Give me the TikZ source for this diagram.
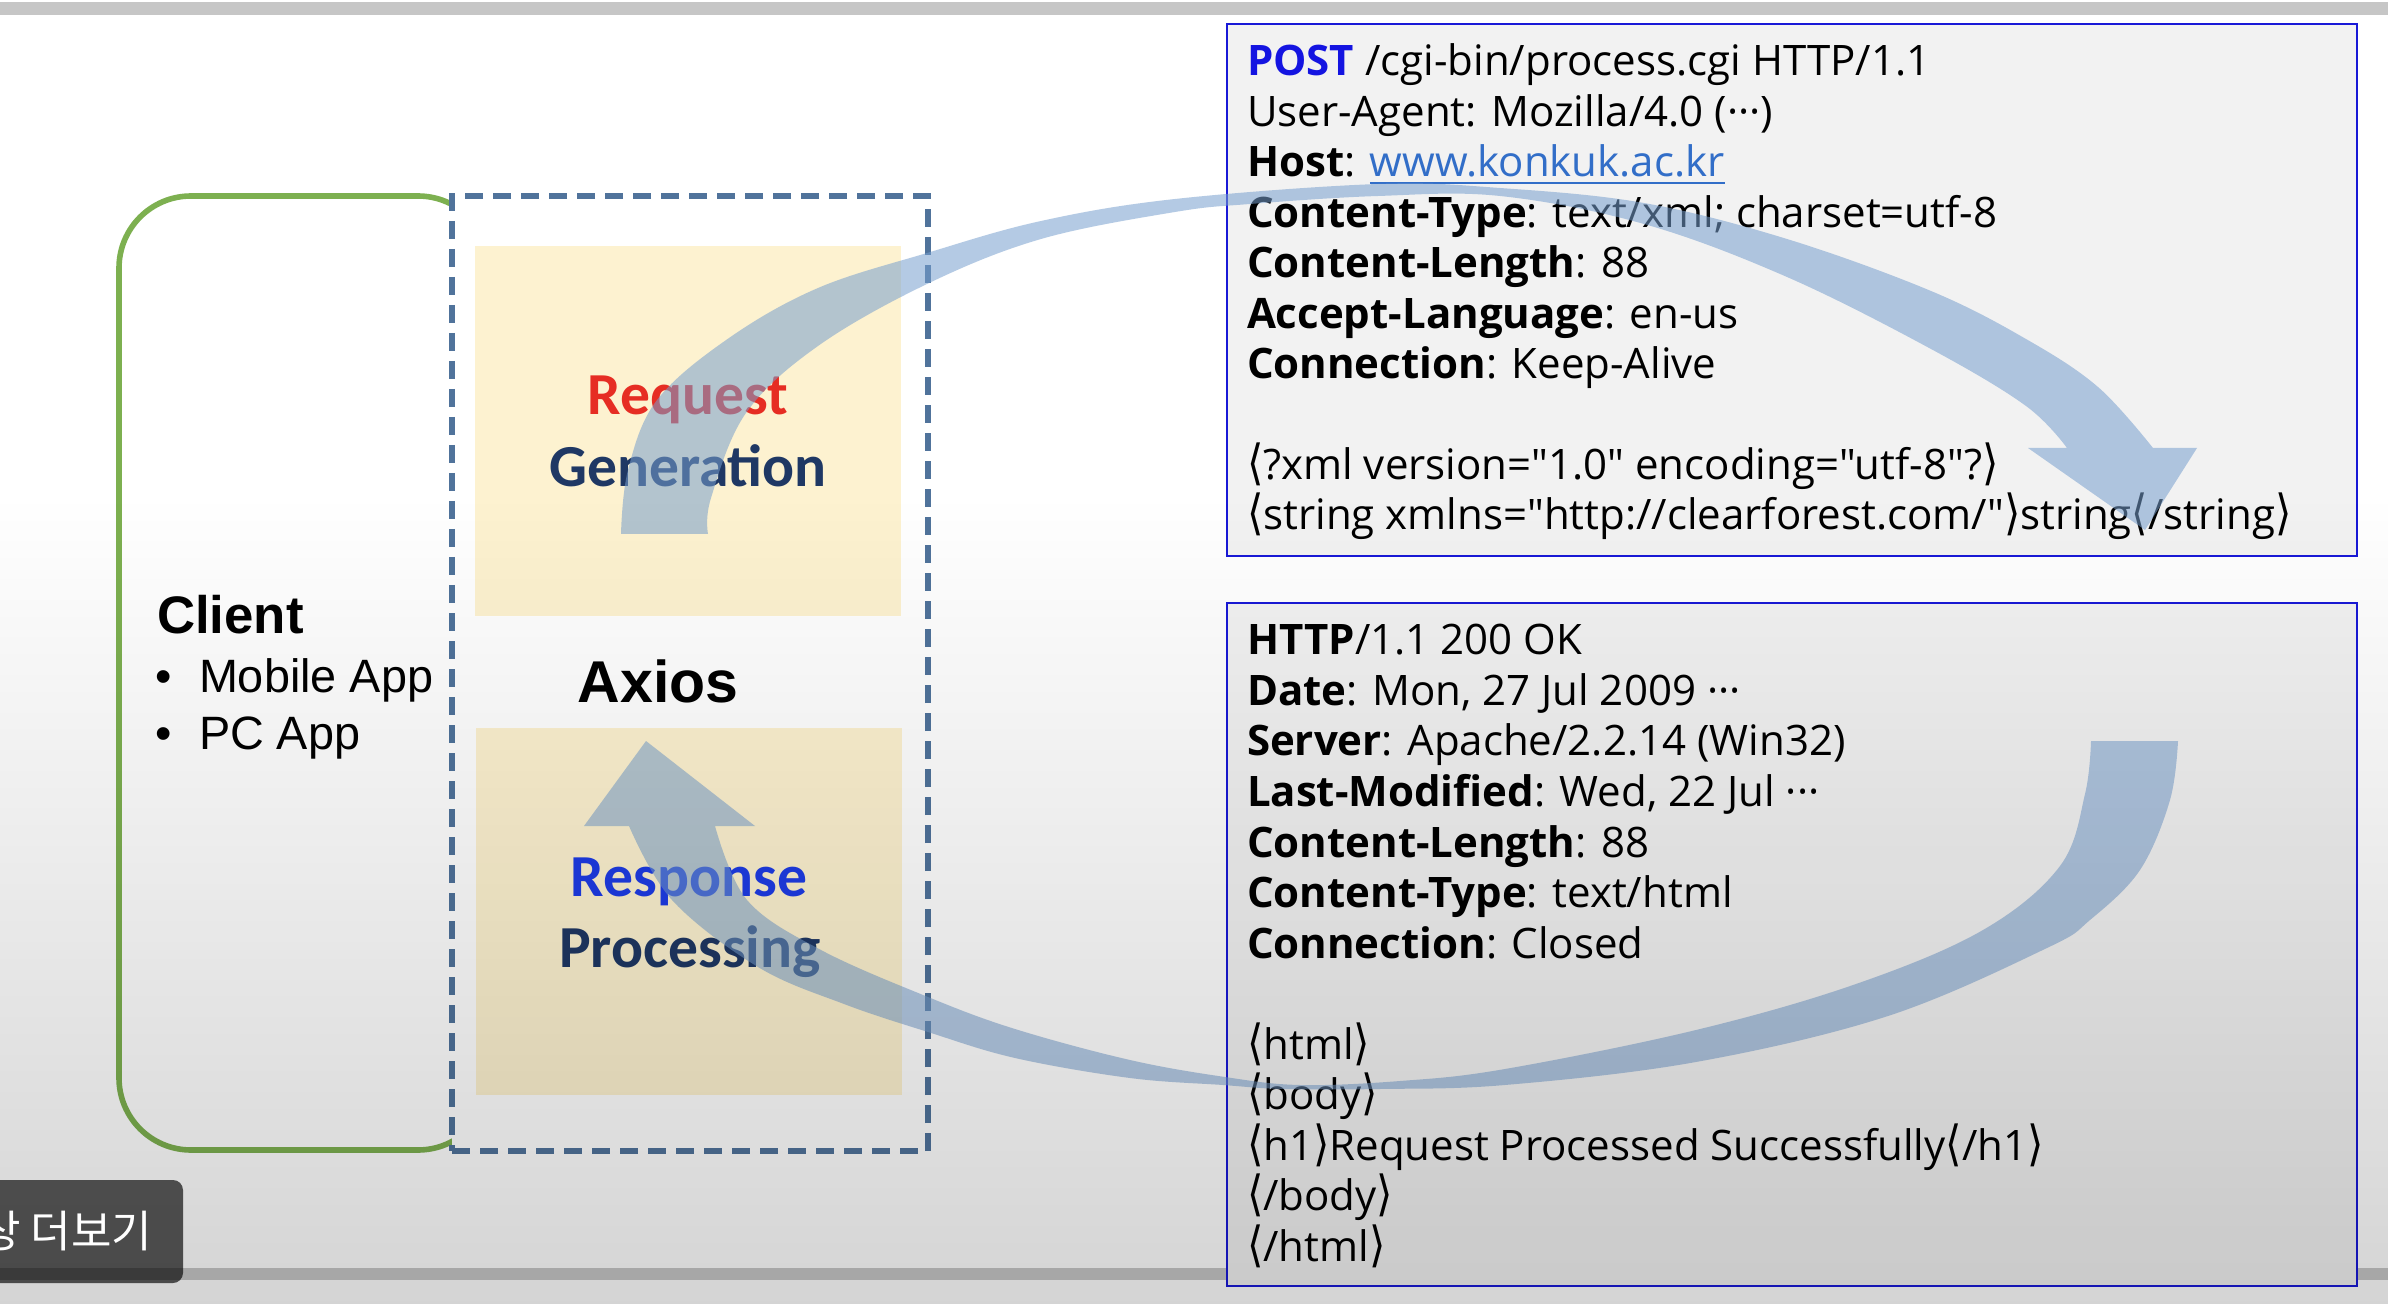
\documentclass[tikz,border=0pt]{standalone}
\usepackage{fontspec}
\setmainfont{Open Sans}[Ligatures=TeXOff]
\newfontfamily\calibfont{Carlito}
\newfontfamily\arialfont{Liberation Sans}
\newfontfamily\symbfont{DejaVu Sans}
\newfontfamily\krfont{Noto Sans CJK KR}
\usetikzlibrary{fadings}

\definecolor{greenline}{RGB}{125,176,80}
\definecolor{dashblue}{RGB}{80,115,155}
\definecolor{cream}{RGB}{253,242,208}
\definecolor{boxblue}{RGB}{25,25,215}
\definecolor{boxfill}{RGB}{242,242,242}
\definecolor{postblue}{RGB}{20,20,225}
\definecolor{linkblue}{RGB}{50,110,200}
\definecolor{reqred}{RGB}{230,45,35}
\definecolor{navy}{RGB}{31,56,100}
\definecolor{respblue}{RGB}{30,60,230}
\definecolor{arrowblue}{RGB}{119,159,206}
\definecolor{stripgray}{RGB}{198,198,198}
\definecolor{bargray}{RGB}{199,199,199}

\newcommand\lab{{\symbfont\scalebox{1}[1.15]{⟨}}}
\newcommand\rab{{\symbfont\scalebox{1}[1.15]{⟩}}}
\newcommand\mdots{···}

\tikzfading[name=shadeup, top color=transparent!100, bottom color=transparent!0]

\begin{document}
\begin{tikzpicture}[x=0.25pt,y=-0.25pt,
  every node/.style={inner sep=0pt, outer sep=0pt},
  httptext/.style={anchor=base west, font=\fontsize{10.5}{12}\selectfont},
  stagetext/.style={anchor=base, font=\calibfont\bfseries\fontsize{14.9}{17}\selectfont},
  arrowfill/.style={fill=arrowblue, fill opacity=0.55},
  msgbox/.style={draw=boxblue, line width=0.7pt, fill=boxfill},
  yellowbox/.style={fill=cream}
]
% canvas
\useasboundingbox (0,0) rectangle (2388,1304);
\fill[white] (0,0) rectangle (2388,1304);
\fill[bargray] (0,1268) rectangle (2388,1280);

% client frame
\draw[greenline, line width=1.4pt, rounded corners=18pt] (119,196) rectangle (490,1150);
% axios frame
\node[draw=dashblue, fill=white, line width=1.5pt, dash pattern=on 4.5pt off 2.5pt,
      minimum width=119pt, minimum height=238.75pt, anchor=north west] (axiosframe) at (452,196) {};

% stage boxes
\node[yellowbox, minimum width=106.5pt, minimum height=92.5pt, anchor=north west] (reqbox) at (475,246) {};
\node[yellowbox, minimum width=106.5pt, minimum height=91.75pt, anchor=north west] (respbox) at (476,728) {};

% labels inside the client / axios frames
\node[anchor=base west, font=\arialfont\bfseries\fontsize{13.2}{15}\selectfont] (client) at (157,633) {Client};
\node[anchor=base west, font=\arialfont\fontsize{11.7}{14}\selectfont] (bul1) at (155,692) {•};
\node[anchor=base west, font=\arialfont\fontsize{11.7}{14}\selectfont] (mobile) at (199,692) {Mobile App};
\node[anchor=base west, font=\arialfont\fontsize{11.7}{14}\selectfont] (bul2) at (155,749) {•};
\node[anchor=base west, font=\arialfont\fontsize{11.7}{14}\selectfont] (pcapp) at (199,749) {PC App};
\node[anchor=base, font=\arialfont\bfseries\fontsize{14.75}{17}\selectfont] (axios) at (658,702) {Axios};

\node[stagetext, text=reqred] (request) at (688,415) {Request};
\node[stagetext, text=navy] (generation) at (688,487) {Generation};
\node[stagetext, text=respblue] (response) at (689,896) {Response};
\node[stagetext, text=navy] (processing) at (690,967) {Processing};

% HTTP request message
\node[msgbox, minimum width=282.5pt, minimum height=133pt, anchor=north west] (reqmsg) at (1227,24) {};
\node[httptext] (rq1) at (1247,76) {\textcolor{postblue}{\textbf{POST}} /cgi-bin/process.cgi HTTP/1.1};
\node[httptext] (rq2) at (1247,127) {User-Agent: Mozilla/4.0 (\mdots)};
\node[httptext] (rq3) at (1247,177) {\textbf{Host}: \textcolor{linkblue}{\underline{www.konkuk.ac.kr}}};
\node[httptext] (rq4) at (1247,228) {\textbf{Content-Type}: text/xml; charset=utf-8};
\node[httptext] (rq5) at (1247,278) {\textbf{Content-Length}: 88};
\node[httptext] (rq6) at (1247,329) {\textbf{Accept-Language}: en-us};
\node[httptext] (rq7) at (1247,379) {\textbf{Connection}: Keep-Alive};
\node[httptext] (rq8) at (1247,480) {\lab?xml version="1.0" encoding="utf-8"?\rab};
\node[httptext] (rq9) at (1247,530) {\lab string xmlns="http://clearforest.com/"\rab string\lab/string\rab};

% HTTP response message
\node[msgbox, minimum width=282.5pt, minimum height=170.75pt, anchor=north west] (respmsg) at (1227,603) {};
\node[httptext] (rs1) at (1247,655) {\textbf{HTTP}/1.1 200 OK};
\node[httptext] (rs2) at (1247,705) {\textbf{Date}: Mon, 27 Jul 2009 \mdots};
\node[httptext] (rs3) at (1247,756) {\textbf{Server}: Apache/2.2.14 (Win32)};
\node[httptext] (rs4) at (1247,806) {\textbf{Last-Modified}: Wed, 22 Jul \mdots};
\node[httptext] (rs5) at (1247,857) {\textbf{Content-Length}: 88};
\node[httptext] (rs6) at (1247,907) {\textbf{Content-Type}: text/html};
\node[httptext] (rs7) at (1247,958) {\textbf{Connection}: Closed};
\node[httptext] (rs8) at (1247,1059) {\lab html\rab};
\node[httptext] (rs9) at (1247,1109) {\lab body\rab};
\node[httptext] (rs10) at (1247,1160) {\lab h1\rab Request Processed Successfully\lab/h1\rab};
\node[httptext] (rs11) at (1247,1210) {\lab/body\rab};
\node[httptext] (rs12) at (1247,1261) {\lab/html\rab};

% request flow: from Request Generation over to the request message
\fill[arrowfill]
  plot[smooth, tension=0.6] coordinates {(621,534) (628,470) (657,400) (729,338) (818,288) (927,253)
     (1041,221) (1175,199) (1378,184) (1500,188) (1644,203) (1787,239) (1931,291) (2026,339) (2098,387) (2153,448)}
  -- (2197,448) -- (2145,530) -- (2028,448) -- (2067,448)
  -- plot[smooth, tension=0.6] coordinates {(2067,448) (2026,406) (1931,349) (1787,277) (1644,224) (1500,196)
     (1378,196) (1250,204) (1175,212) (1041,239) (927,284) (818,346) (746,413) (711,498) (708,534)}
  -- cycle;

% response flow: from the response message back to Response Processing
\fill[arrowfill]
  plot[smooth, tension=0.6] coordinates {(2178,741) (2170,800) (2140,870) (2090,920) (2047,948) (1888,1016)
     (1696,1062) (1505,1085) (1380,1089) (1283,1089) (1223,1085) (1130,1078) (1015,1058) (928,1032)
     (844,1004) (758,967) (672,900) (629,826)}
  -- (584,826) -- (646,741) -- (755,826) -- (715,826)
  -- plot[smooth, tension=0.6] coordinates {(715,826) (747,900) (821,950) (928,997) (1015,1029) (1130,1060)
     (1225,1077) (1300,1085) (1400,1081) (1505,1069) (1696,1030) (1856,984) (1983,930) (2060,866)
     (2085,794) (2091,741)}
  -- cycle;

% darkening toward the bottom edge
\fill[black, fill opacity=0.22, path fading=shadeup] (-10,495) rectangle (2400,1555);

% top strip
\fill[stripgray] (0,2) rectangle (2388,15);

% player tooltip
\fill[black, fill opacity=0.65, rounded corners=2.5pt] (-20,1180) rectangle (183,1283);
\node[anchor=east, text=white, font=\krfont\fontsize{11}{13}\selectfont] (tooltip) at (152,1231) {상 더보기};
\end{tikzpicture}
\end{document}
